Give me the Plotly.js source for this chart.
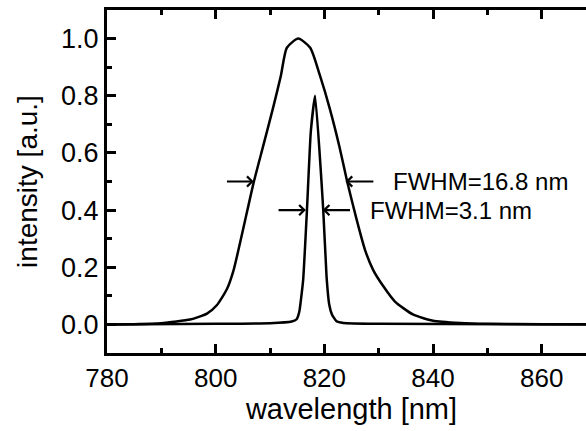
<!DOCTYPE html>
<html>
<head>
<meta charset="utf-8">
<script src="https://cdn.plot.ly/plotly-3.0.1.min.js"></script>
<style>
html, body { margin: 0; padding: 0; overflow: hidden; background: #fff; }
#chart { width: 600px; height: 431px; }
</style>
</head>
<body>
<div id="chart"></div>
<script>
// Broad emission spectrum
const broadWavelength = [780, 785, 790, 792.3, 795.3, 798.4, 800.2, 802.1, 803.3, 807.0, 808.8, 810.6, 812.0, 813.1, 815.2, 817.4, 819.2, 821.0, 822.8, 824.2, 825.9, 827.5, 829.0, 830.8, 833.0, 836.3, 840.0, 845, 850, 860, 870];
const broadIntensity  = [0.0, 0.001, 0.004, 0.009, 0.017, 0.038, 0.067, 0.125, 0.19, 0.497, 0.628, 0.76, 0.87, 0.968, 1.0, 0.968, 0.87, 0.755, 0.62, 0.50, 0.37, 0.26, 0.19, 0.135, 0.08, 0.035, 0.013, 0.005, 0.002, 0.001, 0.0];

// Narrow emission spectrum
const narrowWavelength = [780, 800, 810, 814.0, 814.9, 815.4, 816.1, 816.8, 817.5, 818.3, 819.8, 820.4, 820.9, 821.4, 822.2, 823.5, 830, 870];
const narrowIntensity  = [0.0, 0.002, 0.004, 0.01, 0.018, 0.045, 0.155, 0.40, 0.672, 0.80, 0.40, 0.17, 0.07, 0.035, 0.012, 0.005, 0.002, 0.0];

// FWHM markers: [tail wavelength, tip wavelength, level]
const fwhmBroadArrows  = [[801.8, 807.0, 0.5], [829.3, 823.9, 0.5]];
const fwhmNarrowArrows = [[811.3, 816.6, 0.4], [825.0, 819.7, 0.4]];
const fwhmLabels = [
  {text: "FWHM=16.8 nm", x: 832.2, y: 0.5},
  {text: "FWHM=3.1 nm",  x: 828.1, y: 0.4}
];

const xTicks = [780, 800, 820, 840, 860];
const yTicks = [0.0, 0.2, 0.4, 0.6, 0.8, 1.0];

const FONT = "Liberation Sans, Arial, sans-serif";
const INK = "#000000";

const traces = [
  {x: broadWavelength, y: broadIntensity, mode: "lines", line: {color: "black", width: 2.5, shape: "spline", smoothing: 0.6}, hoverinfo: "skip"},
  {x: narrowWavelength, y: narrowIntensity, mode: "lines", line: {color: "black", width: 2.5, shape: "spline", smoothing: 0.4}, hoverinfo: "skip"}
];

const annotations = [];
fwhmBroadArrows.concat(fwhmNarrowArrows).forEach(a => {
  annotations.push({
    x: a[1], y: a[2], ax: a[0], ay: a[2], xref: "x", yref: "y", axref: "x", ayref: "y",
    text: "", showarrow: true, arrowhead: 4, arrowsize: 0.9, arrowwidth: 2.2, arrowcolor: "black", standoff: 0
  });
});
fwhmLabels.forEach(l => {
  annotations.push({
    x: l.x, y: l.y, xref: "x", yref: "y", text: l.text, showarrow: false,
    xanchor: "left", yanchor: "middle", font: {family: FONT, size: 24, color: "black"}
  });
});

const layout = {
  width: 600, height: 431,
  margin: {l: 107, r: 4, t: 10, b: 78},
  paper_bgcolor: "white", plot_bgcolor: "white",
  showlegend: false,
  font: {family: FONT, color: "black", size: 26},
  xaxis: {
    range: [780, 870], tickmode: "array", tickvals: xTicks, ticktext: xTicks.map(String),
    ticks: "inside", ticklen: 9, tickwidth: 3, tickcolor: INK,
    minor: {tickmode: "linear", tick0: 780, dtick: 10, ticks: "inside", ticklen: 5, tickwidth: 3, tickcolor: INK, showgrid: false},
    showline: true, linewidth: 3, linecolor: INK, mirror: "ticks",
    showgrid: false, zeroline: false,
    tickfont: {family: FONT, size: 26, color: "black"},
    title: {text: "wavelength [nm]", font: {family: FONT, size: 29, color: "black"}, standoff: 4}
  },
  yaxis: {
    range: [-0.1, 1.1], tickmode: "array", tickvals: yTicks, ticktext: yTicks.map(v => v.toFixed(1)),
    ticks: "inside", ticklen: 9, tickwidth: 3, tickcolor: INK,
    minor: {tickmode: "linear", tick0: 0, dtick: 0.1, ticks: "inside", ticklen: 5, tickwidth: 3, tickcolor: INK, showgrid: false},
    showline: true, linewidth: 3, linecolor: INK, mirror: "ticks",
    showgrid: false, zeroline: false,
    tickfont: {family: FONT, size: 27, color: "black"},
    title: {text: "intensity [a.u.]", font: {family: FONT, size: 28, color: "black"}, standoff: 16}
  },
  annotations: annotations
};

Plotly.newPlot("chart", traces, layout, {displayModeBar: false});
</script>
</body>
</html>
